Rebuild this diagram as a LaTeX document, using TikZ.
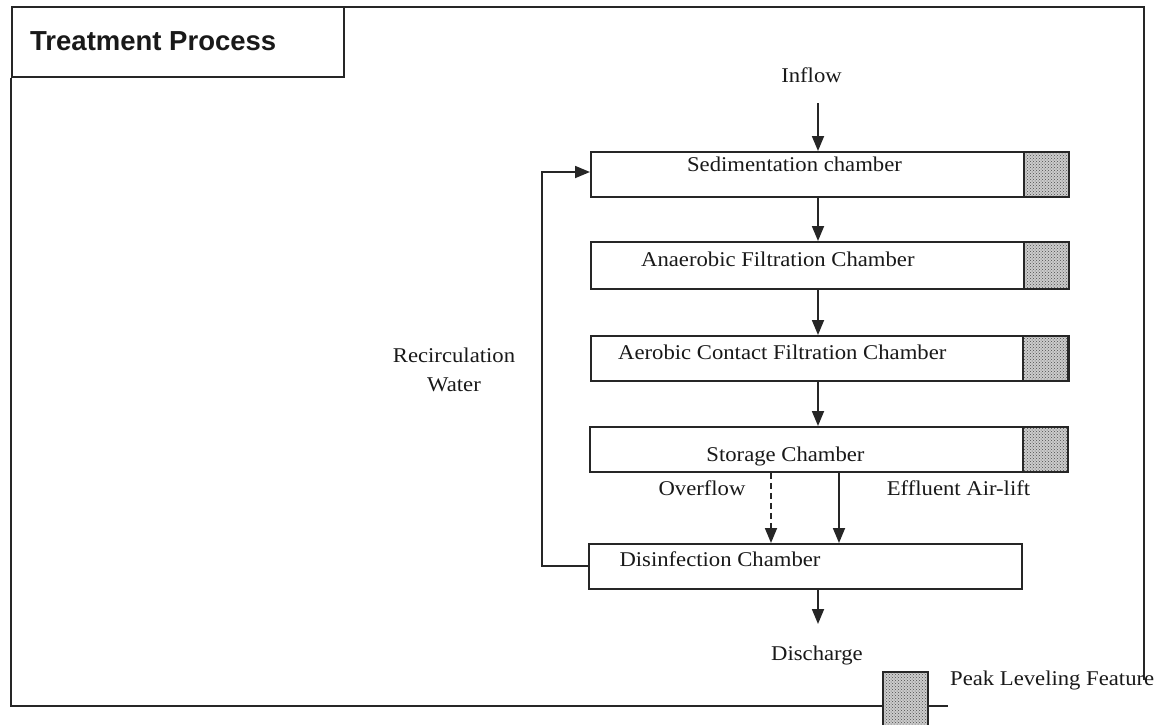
\documentclass[tikz,border=0pt]{standalone}
\usepackage{fontspec}
\setmainfont{Liberation Serif}[FakeStretch=1.08]
\newfontfamily\titlefont{Liberation Sans}
\usetikzlibrary{arrows.meta,patterns}
\tikzset{
  ln/.style={line width=1.8pt, draw=black!85},
  box/.style={ln, fill=white, inner sep=0pt, anchor=north west},
  hatch/.style={ln, inner sep=0pt, anchor=north west, minimum width=45pt,
     preaction={fill=gray!40}, pattern=crosshatch dots, pattern color=black!70},
  arr/.style={ln, -{Triangle[length=15pt,width=12pt]}},
  lbl/.style={inner sep=0pt, font=\fontsize{21}{25}\selectfont, text=black!90},
}
\begin{document}
\begin{tikzpicture}[x=1pt,y=-1pt]
\useasboundingbox (0,0) rectangle (1165,724);
% frame and title
\node[box, minimum width=332pt, minimum height=70pt] (title) at (11,6) {};
\node[inner sep=0pt, anchor=base west, font=\titlefont\bfseries\fontsize{27.5}{32}\selectfont, text=black!90] (titletext) at (30,50) {Treatment Process};
\coordinate (ftl) at (1144,7);
\coordinate (fbr) at (1144,680);
\coordinate (fbl) at (11,706);
\node[hatch, minimum height=60pt] (leg) at (882,671) {};
\draw[ln] (title.north east |- ftl) -- (ftl) -- (fbr);
\draw[ln] (title.south west) -- (fbl) -- (fbl -| leg.west);
\coordinate (legend) at (948,706);
\draw[ln] (leg.east |- legend) -- (legend);
\node[lbl, anchor=base west] (legtext) at (950,685) {Peak Leveling Feature};
% chambers
\node[box, minimum width=478pt, minimum height=45pt] (sed) at (590,151) {};
\node[box, minimum width=478pt, minimum height=47pt] (ana) at (590,241) {};
\node[box, minimum width=478pt, minimum height=45pt] (aer) at (590,335) {};
\node[box, minimum width=478pt, minimum height=45pt] (sto) at (589,426) {};
\node[box, minimum width=433pt, minimum height=45pt] (dis) at (588,543) {};
\node[hatch, minimum height=45pt] (h1) at (1023,151) {};
\node[hatch, minimum height=47pt] (h2) at (1023,241) {};
\node[hatch, minimum height=45pt] (h3) at (1022,335) {};
\node[hatch, minimum height=45pt] (h4) at (1022,426) {};
% labels
\node[lbl, anchor=base] (tsed) at (794.5,171) {Sedimentation chamber};
\node[lbl, anchor=base west] (tana) at (641,266) {Anaerobic Filtration Chamber};
\node[lbl, anchor=base west] (taer) at (618,359) {Aerobic Contact Filtration Chamber};
\node[lbl, anchor=base] (tsto) at (785.5,461) {Storage Chamber};
\node[lbl, anchor=base] (tdis) at (720,566) {Disinfection Chamber};
\node[lbl, anchor=base] (inflow) at (811.5,82) {Inflow};
\node[lbl, anchor=base] (tover) at (702,495) {Overflow};
\node[lbl, anchor=base] (tair) at (958.5,495) {Effluent Air-lift};
\node[lbl, anchor=base] (discharge) at (817,660) {Discharge};
\node[lbl, align=center, font=\fontsize{21}{29}\selectfont] (recirc) at (454,370) {Recirculation\\Water};
% flow
\coordinate (col) at (818,0);
\coordinate (inflowstart) at (818,103);
\coordinate (dischargeend) at (818,624);
\draw[arr] (inflowstart) -- (sed.north -| col);
\draw[arr] (sed.south -| col) -- (ana.north -| col);
\draw[arr] (ana.south -| col) -- (aer.north -| col);
\draw[arr] (aer.south -| col) -- (sto.north -| col);
\coordinate (solidx) at (839,0);
\coordinate (dashx) at (771,0);
\draw[arr] (sto.south -| solidx) -- (dis.north -| solidx);
\draw[arr, dashed, dash pattern=on 6pt off 4pt] (sto.south -| dashx) -- (dis.north -| dashx);
\draw[arr] (dis.south -| col) -- (dischargeend);
\coordinate (rx) at (542,0);
\coordinate (ry) at (0,172);
\coordinate (dy) at (0,566);
\draw[arr] (dis.west |- dy) -- (rx |- dy) -- (rx |- ry) -- (sed.west |- ry);
\end{tikzpicture}
\end{document}
